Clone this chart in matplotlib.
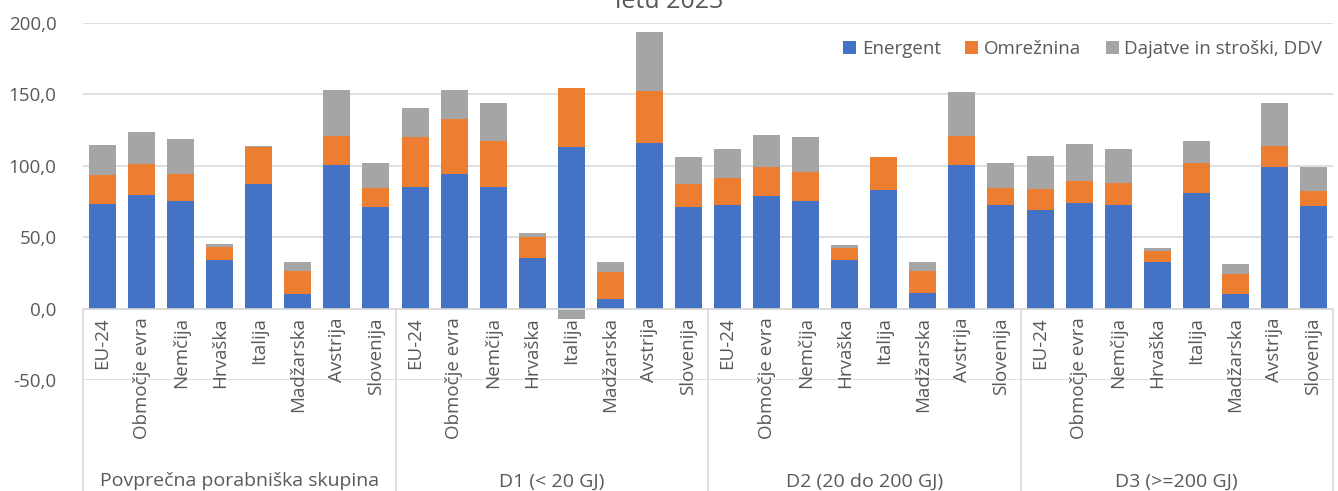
import numpy as np
import matplotlib
matplotlib.use("Agg")
import matplotlib.pyplot as plt

plt.rcParams['font.family'] = ['Open Sans', 'DejaVu Sans']

countries = ['EU-24', 'Območje evra', 'Nemčija', 'Hrvaška', 'Italija',
             'Madžarska', 'Avstrija', 'Slovenija']
groups = ['Povprečna porabniška skupina', 'D1 (< 20 GJ)',
          'D2 (20 do 200 GJ)', 'D3 (>=200 GJ)']

# Energent
energent = [73.1, 79.7, 75.7, 33.9, 87.4, 10.5, 100.5, 71.3,
            85.5, 94.0, 85.5, 35.5, 113.3, 7.0, 115.7, 71.3,
            72.2, 79.0, 75.7, 33.9, 83.2, 11.2, 100.7, 72.2,
            68.9, 74.1, 72.4, 32.9, 80.8, 10.5, 99.3, 71.5]
# Omreznina
omreznina = [20.8, 21.7, 18.9, 9.1, 25.9, 15.7, 20.3, 13.5,
             34.4, 38.5, 31.8, 14.7, 41.4, 18.5, 36.6, 16.1,
             19.4, 20.1, 20.1, 8.4, 23.3, 15.0, 20.1, 12.6,
             15.0, 15.6, 15.7, 7.5, 21.5, 14.0, 14.7, 10.7]
# Dajatve in stroski, DDV
dajatve = [20.8, 22.4, 24.3, 2.3, 0.7, 6.5, 32.2, 17.3,
           20.8, 20.5, 26.6, 2.6, -7.0, 7.2, 41.6, 18.9,
           20.5, 22.2, 24.1, 2.3, 0.0, 6.5, 30.6, 17.3,
           23.3, 25.7, 24.0, 1.7, 14.8, 6.6, 29.9, 16.9]

series = [('Energent', energent, '#4472C4'),
          ('Omrežnina', omreznina, '#ED7D31'),
          ('Dajatve in stroški, DDV', dajatve, '#A5A5A5')]

txt = '#595959'
grid = '#D9D9D9'

fig = plt.figure(figsize=(13.38, 4.91), dpi=100)
ax = fig.add_axes([83/1338, 1-380/491, 1250/1338, 357/491])

n = len(energent)
x = np.arange(n)
pos = np.zeros(n)
neg = np.zeros(n)
for name, vals, col in series:
    v = np.array(vals)
    bottom = np.where(v >= 0, pos, neg)
    ax.bar(x, v, 0.69, bottom=bottom, color=col, label=name, zorder=3)
    pos = pos + np.where(v >= 0, v, 0)
    neg = neg + np.where(v < 0, v, 0)

ax.set_xlim(-0.5, n - 0.5)
ax.set_ylim(-50, 200)
ax.set_yticks([-50, 0, 50, 100, 150, 200])
ax.set_yticklabels(['-50,0', '0,0', '50,0', '100,0', '150,0', '200,0'],
                   fontsize=13.5, color=txt)
ax.tick_params(axis='y', length=0, pad=19)
ax.set_xticks([])
ax.yaxis.grid(True, color=grid, lw=1.2, zorder=0)
for s in ax.spines.values():
    s.set_visible(False)

# category axis at zero
ax.axhline(0, color=grid, lw=1.2, zorder=4)
ybot = -50 - 111 / 357 * 250  # figure bottom in data units
for k in range(len(groups) + 1):
    xs = k * len(countries) - 0.5
    ax.plot([xs, xs], [0, ybot], color=grid, lw=1.2, clip_on=False, zorder=4)

for i in range(n):
    ax.text(x[i], -6.0, countries[i % len(countries)], rotation=90,
            ha='center', va='top', fontsize=13.5, color=txt)

for g, name in enumerate(groups):
    ax.text(g * len(countries) + 3.5, -121, name, ha='center', va='center',
            fontsize=14, color=txt, clip_on=False)

ax.legend(loc='upper right', bbox_to_anchor=(1.005, 1.0), ncol=3,
          frameon=False, fontsize=13.5, labelcolor=txt, handlelength=0.7,
          handleheight=0.7, handletextpad=0.3, columnspacing=1.3)

fig.text(0.5, 1 - 8/491, 'letu 2023', ha='center', va='baseline',
         fontsize=18, color=txt)

fig.savefig('out.png', dpi=100)
